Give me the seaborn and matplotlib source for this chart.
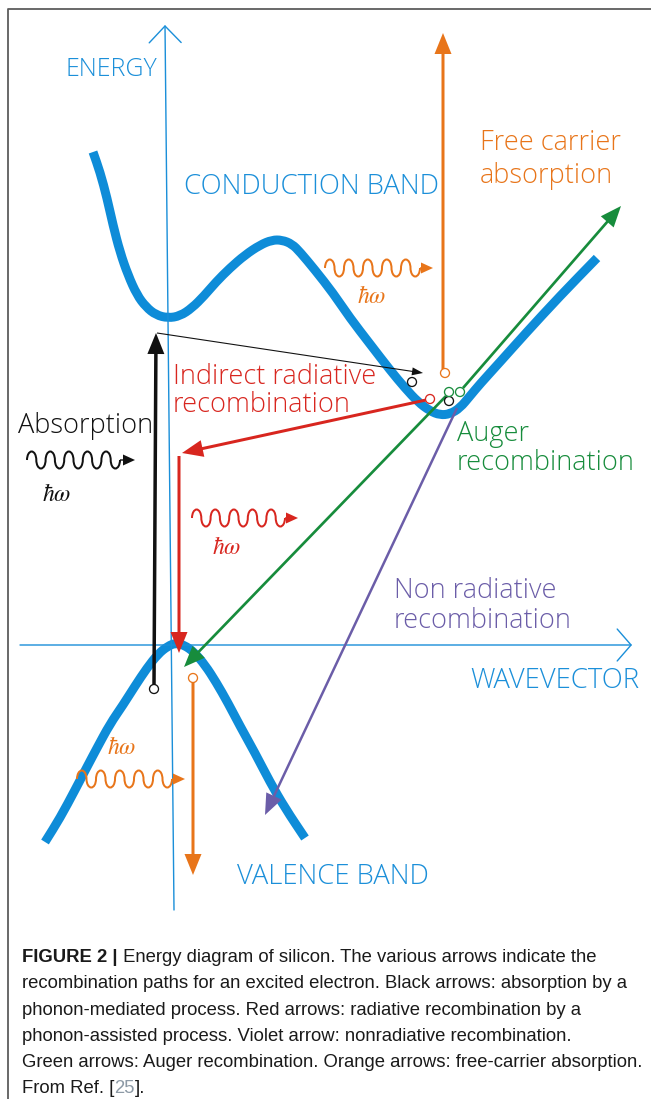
import numpy as np
import pandas as pd
import matplotlib.pyplot as plt
import seaborn as sns
from matplotlib.patches import Arc, PathPatch
from matplotlib.path import Path

# everything is in picture pixels, y grows downward

# conduction band
cond_x = [93, 100, 107, 113, 120, 128, 137, 146, 156, 168, 180, 192, 204, 216, 230, 245, 260, 272, 282,
          292, 300, 315, 333, 350, 370, 390, 405, 418, 430, 440, 450, 460, 470, 480, 500, 525, 560, 597]
cond_y = [152, 172, 198, 225, 252, 275, 295, 307, 315, 318, 316, 308, 296, 282, 268, 255, 245, 240, 240,
          244, 252, 270, 293, 318, 344, 370, 388, 402, 411, 415, 414, 408, 396, 384, 362, 334, 296, 258]

# valence band
val_x = [45, 60, 75, 88, 97, 110, 123, 135, 147, 158, 168, 176, 184, 194, 205, 216, 228, 240, 255, 270, 285, 305]
val_y = [842, 818, 790, 765, 748, 724, 705, 686, 668, 654, 646, 643, 645, 652, 665, 682, 703, 726, 753, 782, 808, 838]

# transitions: tail -> tip
arrow_kind = ['orange', 'black', 'black', 'red', 'red', 'green', 'green', 'violet', 'orange']
arrow_x0 = [443, 154, 157, 426, 179, 446, 463, 457, 193]
arrow_y0 = [369, 685, 333, 400, 456, 396, 388, 408, 682]
arrow_x1 = [443, 156, 423, 182, 179, 184, 621, 265, 193]
arrow_y1 = [33, 333, 373, 453, 653, 667, 206, 815, 875]

# carriers (small open circles)
circ_kind = ['black', 'black', 'black', 'orange', 'orange', 'red', 'green', 'green']
circ_x = [412, 449, 154, 445, 193, 430, 449, 460]
circ_y = [382, 401, 689, 373, 678, 399, 392, 392]

# photons (wavy arrows) + their hbar-omega labels
wave_kind = ['black', 'red', 'orange', 'orange']
wave_x0 = [27, 192, 325, 77]
wave_x1 = [120, 285, 420, 172]
wave_tip = [135, 298, 433, 185]
wave_y = [460, 518, 268, 779]
hw_x = [57, 227, 372, 122]
hw_y = [495, 548, 297, 748]

BLUE = '#1b8fd9'
colors = {'black': '#111111', 'red': '#d8261f', 'green': '#178c3c',
          'orange': '#e8751a', 'violet': '#6b5da8', 'blue': BLUE}

labels = [
    ('ENERGY', 65, 66, 'blue', 18),
    ('CONDUCTION BAND', 184, 183, 'blue', 19.8),
    ('Free carrier', 480, 140, 'orange', 19.5),
    ('absorption', 480, 172, 'orange', 19.5),
    ('Indirect radiative', 173, 373, 'red', 19.5),
    ('recombination', 173, 402, 'red', 19.5),
    ('Absorption', 18, 422, 'black', 19.5),
    ('Auger', 457, 430, 'green', 19.5),
    ('recombination', 457, 460, 'green', 19.5),
    ('Non radiative', 394, 588, 'violet', 19.5),
    ('recombination', 394, 617, 'violet', 19.5),
    ('WAVEVECTOR', 470, 677, 'blue', 19.8),
    ('VALENCE BAND', 237, 873, 'blue', 19.8),
]

caption = [
    "Energy diagram of silicon. The various arrows indicate the",
    "recombination paths for an excited electron. Black arrows: absorption by a",
    "phonon-mediated process. Red arrows: radiative recombination by a",
    "phonon-assisted process. Violet arrow: nonradiative recombination.",
    "Green arrows: Auger recombination. Orange arrows: free-carrier absorption.",
]

sns.set_theme(style='white')
plt.rcParams['font.family'] = ['Open Sans', 'DejaVu Sans']
plt.rcParams['mathtext.fontset'] = 'stix'

PT = 0.72  # pixels -> points at dpi 100

fig = plt.figure(figsize=(6.51, 10.99), dpi=100)
ax = fig.add_axes([0, 0, 1, 1])


def band_path(xs, ys):
    # quadratic pieces through the midpoints, the read points act as control points
    pts = np.column_stack([xs, ys]).astype(float)
    mids = (pts[:-1] + pts[1:]) / 2
    verts, codes = [pts[0], mids[0]], [Path.MOVETO, Path.LINETO]
    for k in range(1, len(pts) - 1):
        verts += [pts[k], mids[k]]
        codes += [Path.CURVE3, Path.CURVE3]
    verts.append(pts[-1])
    codes.append(Path.LINETO)
    return Path(verts, codes)


for bx, by in [(cond_x, cond_y), (val_x, val_y)]:
    ax.add_patch(PathPatch(band_path(bx, by), fill=False, edgecolor='#0e8cd8', lw=9 * PT,
                           capstyle='butt', joinstyle='round', zorder=2))

# axes with open chevron heads
ax.annotate('', xy=(165, 25), xytext=(174, 910),
            arrowprops=dict(arrowstyle='->,head_length=1.2,head_width=1.15', mutation_scale=10,
                            color=BLUE, lw=1.4 * PT, shrinkA=0, shrinkB=0), zorder=3)
ax.annotate('', xy=(632, 645), xytext=(20, 645),
            arrowprops=dict(arrowstyle='->,head_length=1.0,head_width=1.15', mutation_scale=10,
                            color=BLUE, lw=1.4 * PT, shrinkA=0, shrinkB=0), zorder=3)

# transition arrows
shaft = {'orange': 3, 'black': 3.5, 'red': 3, 'green': 2.7, 'violet': 2.5}
for i, k in enumerate(arrow_kind):
    w, hw, hl = shaft[k], 17, 21
    if i == 2:  # thin phonon-assisted step
        w, hw, hl = 1.1, 8, 11
    ax.arrow(arrow_x0[i], arrow_y0[i], arrow_x1[i] - arrow_x0[i], arrow_y1[i] - arrow_y0[i],
             width=w, head_width=hw, head_length=hl, length_includes_head=True,
             color=colors[k], lw=0, zorder=4)

# carriers
circ = pd.DataFrame({'x': circ_x, 'y': circ_y, 'kind': circ_kind})
sns.scatterplot(data=circ, x='x', y='y', hue='kind', palette=colors, s=42, linewidth=1.3 * PT,
                legend=False, ax=ax, zorder=6)
coll = ax.collections[-1]
coll.set_edgecolors(coll.get_facecolors())
coll.set_facecolor('white')


def photon(x0, x1, tip, yc, color, n=5, amp=8.5):
    half = (x1 - x0) / (2 * n)
    for j in range(2 * n):
        up = j % 2 == 0
        ax.add_patch(Arc((x0 + half * (j + 0.5), yc), half, 2 * amp,
                         theta1=180 if up else 0, theta2=360 if up else 180,
                         color=color, lw=2.0 * PT, zorder=4))
    ax.arrow(x1, yc, tip - x1, 0, width=1.4, head_width=11, head_length=12,
             length_includes_head=True, color=color, lw=0, zorder=4)


for i, k in enumerate(wave_kind):
    photon(wave_x0[i], wave_x1[i], wave_tip[i], wave_y[i], colors[k])
    ax.text(hw_x[i], hw_y[i], r'$\hbar\omega$', color=colors[k], fontsize=17,
            ha='center', va='center', zorder=5)

for txt, x, y, k, fs in labels:
    ax.text(x, y, txt, color=colors[k], fontsize=fs, fontweight='light', ha='left',
            va='center_baseline', zorder=3)

# frame of the figure box
ax.plot([8, 8, 651], [1099, 9, 9], color='#5c5c5c', lw=1.8 * PT)

# caption
cap_font = ['Liberation Sans', 'DejaVu Sans']
cs = 13.3
base = [962, 988, 1015, 1041, 1067, 1093]
t0 = ax.text(22, base[0], 'FIGURE 2 |', fontsize=cs, fontweight='bold', color='#1a1a1a',
             family=cap_font, va='baseline')
ax.annotate(' ' + caption[0], xy=(1, 0), xycoords=t0, va='bottom', fontsize=cs,
            color='#1a1a1a', family=cap_font)
for line, y in zip(caption[1:], base[1:]):
    ax.text(22, y, line, fontsize=cs, color='#1a1a1a', family=cap_font, va='baseline')
t1 = ax.text(22, base[5], 'From Ref. [', fontsize=cs, color='#1a1a1a', family=cap_font, va='baseline')
t2 = ax.annotate('25', xy=(1, 0), xycoords=t1, va='bottom', fontsize=cs, color='#8d9aa6', family=cap_font)
ax.annotate('].', xy=(1, 0), xycoords=t2, va='bottom', fontsize=cs, color='#1a1a1a', family=cap_font)

ax.set_xlim(0, 651)
ax.set_ylim(1099, 0)
ax.axis('off')

fig.savefig('out.png', dpi=100)
